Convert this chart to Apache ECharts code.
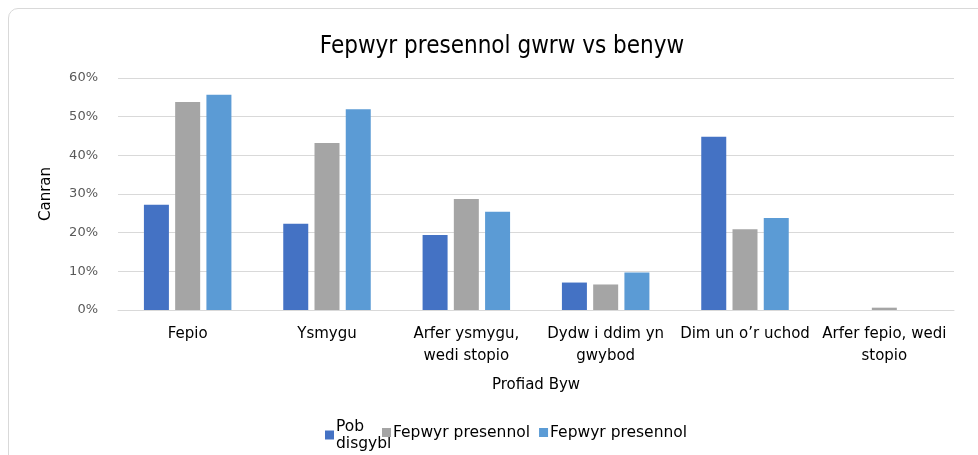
<!DOCTYPE html>
<html>
<head>
<meta charset="utf-8">
<script src="https://cdn.jsdelivr.net/npm/echarts@6/dist/echarts.min.js"></script>
<style>
  html, body { margin: 0; padding: 0; background: #fff; }
  #wrap { position: absolute; left: 8px; top: 8px; width: 990px; height: 460px;
          border: 1px solid #d9d9d9; border-radius: 10px; box-sizing: border-box; }
  #chart { position: absolute; left: 0; top: 0; width: 978px; height: 455px; }
</style>
</head>
<body>
<div id="wrap"></div>
<div id="chart"></div>
<script>
// categories (Profiad Byw)
let categories = [
  "Fepio",
  "Ysmygu",
  "Arfer ysmygu,\nwedi stopio",
  "Dydw i ddim yn\ngwybod",
  "Dim un o\u2019r uchod",
  "Arfer fepio, wedi\nstopio"
];
// percentages
let pobDisgybl = [27.2, 22.3, 19.4, 7.1, 44.8, 0];
let fepwyrGrey = [53.8, 43.2, 28.7, 6.6, 20.9, 0.6];
let fepwyrBlue = [55.7, 51.9, 25.4, 9.7, 23.8, 0];
let yTicks = [0, 10, 20, 30, 40, 50, 60];
let seriesNames = ["Pob\ndisgybl", "Fepwyr presennol", "Fepwyr presennol "];

let colorList = ["#4472C4", "#A5A5A5", "#5B9BD5"];
let font = "DejaVu Sans";

let legendText = { fontFamily: font, fontSize: 15.5, color: "#000", padding: [0, 0, 0, -3], lineHeight: 17 };

let myChart = echarts.init(document.getElementById("chart"));
let option = {
  animation: false,
  title: {
    text: "Fepwyr presennol gwrw vs benyw",
    left: 497,
    textAlign: "center",
    top: 30,
    textStyle: { fontFamily: "DejaVu Sans Condensed", fontWeight: "normal", fontSize: 24, color: "#000" }
  },
  // Excel wraps the first entry and lets "disgybl" run under the next icon,
  // so the legend is split in two
  legend: [{
    top: 418, left: 325, padding: 0,
    itemWidth: 9, itemHeight: 9, icon: "rect",
    textStyle: legendText,
    data: [seriesNames[0]]
  }, {
    top: 424, left: 382, padding: 0,
    itemWidth: 9, itemHeight: 9, itemGap: 9, icon: "rect",
    textStyle: legendText,
    data: [seriesNames[1], seriesNames[2]]
  }],
  grid: { left: 118, right: 24, top: 78, bottom: 145 },
  xAxis: {
    type: "category",
    data: categories,
    name: "Profiad Byw",
    nameLocation: "middle",
    nameGap: 68,
    nameTextStyle: { fontFamily: font, fontSize: 15, color: "#000" },
    axisLine: { lineStyle: { color: "#d9d9d9" } },
    axisTick: { show: false },
    axisLabel: { fontFamily: font, fontSize: 15, color: "#000", lineHeight: 22, margin: 13, interval: 0 }
  },
  yAxis: {
    type: "value",
    min: yTicks[0],
    max: yTicks[yTicks.length - 1],
    interval: 10,
    name: "Canran",
    nameLocation: "middle",
    nameGap: 64,
    nameTextStyle: { fontFamily: font, fontSize: 15, color: "#000" },
    axisLine: { show: false },
    axisTick: { show: false },
    axisLabel: { fontFamily: font, fontSize: 13, color: "#595959", margin: 20, formatter: "{value}%" },
    splitLine: { lineStyle: { color: "#d9d9d9" } }
  },
  series: [
    { name: seriesNames[0], type: "bar", data: pobDisgybl, barWidth: 25, barGap: "25%", itemStyle: { color: colorList[0] } },
    { name: seriesNames[1], type: "bar", data: fepwyrGrey, barWidth: 25, barGap: "25%", itemStyle: { color: colorList[1] } },
    { name: seriesNames[2], type: "bar", data: fepwyrBlue, barWidth: 25, barGap: "25%", itemStyle: { color: colorList[2] } }
  ]
};
myChart.setOption(option);
</script>
</body>
</html>
